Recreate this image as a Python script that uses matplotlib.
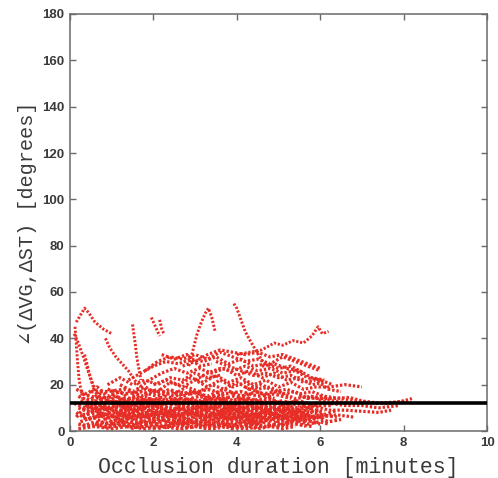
import matplotlib
matplotlib.use("Agg")
import matplotlib.pyplot as plt

# ---- data (minutes vs degrees) ----
threshold = 12.0
x_ticks = [0, 2, 4, 6, 8, 10]
y_ticks = [0, 20, 40, 60, 80, 100, 120, 140, 160, 180]

upper_tracks = [
    [(0.15, 47), (0.25, 50), (0.35, 53), (0.45, 51), (0.6, 47), (0.8, 44), (1.0, 42)],
    [(0.1, 42), (0.2, 38), (0.3, 33), (0.45, 25), (0.6, 18), (0.8, 12)],
    [(0.12, 45), (0.15, 38), (0.18, 30), (0.22, 22), (0.3, 14)],
    [(0.35, 33), (0.42, 28), (0.5, 22), (0.6, 17), (0.75, 13), (0.9, 9)],
    [(0.85, 40), (0.95, 36), (1.1, 32), (1.25, 29), (1.4, 26), (1.55, 22), (1.7, 19)],
    [(1.5, 46), (1.53, 42), (1.57, 37), (1.6, 32), (1.65, 27), (1.7, 22)],
    [(1.95, 49), (2.0, 47), (2.05, 45), (2.1, 43), (2.15, 41)],
    [(2.15, 48), (2.2, 44), (2.25, 42)],
    [(2.85, 28), (2.95, 35), (3.05, 42), (3.15, 47), (3.25, 51), (3.32, 53), (3.4, 49), (3.48, 43)],
    [(3.93, 55), (4.0, 53), (4.1, 48), (4.2, 43), (4.32, 39), (4.45, 35), (4.55, 32), (4.7, 28)],
    [(4.0, 33), (4.3, 34), (4.6, 35), (4.9, 38), (5.1, 37), (5.35, 39), (5.6, 38),
     (5.8, 41), (5.95, 45), (6.05, 42), (6.2, 43)],
]

mid_tracks = [
    [(1.4, 22), (1.7, 25), (2.0, 28), (2.3, 30), (2.6, 29), (2.9, 31), (3.2, 30), (3.5, 32),
     (3.8, 29), (4.1, 31), (4.4, 28), (4.7, 29), (5.0, 27), (5.3, 28), (5.6, 25)],
    [(1.6, 18), (1.9, 22), (2.2, 25), (2.5, 27), (2.8, 25), (3.1, 27), (3.4, 25), (3.7, 27),
     (4.0, 24), (4.3, 26), (4.6, 23), (4.9, 25), (5.2, 22), (5.5, 23), (5.8, 20), (6.1, 21)],
    [(1.8, 26), (2.1, 30), (2.4, 32), (2.7, 31), (3.0, 33), (3.3, 31), (3.6, 34), (3.9, 32),
     (4.2, 30), (4.5, 31), (4.8, 29), (5.1, 32), (5.4, 30), (5.7, 28), (6.0, 26)],
    [(2.0, 20), (2.3, 22), (2.6, 20), (2.9, 23), (3.2, 21), (3.5, 24), (3.8, 21), (4.1, 23),
     (4.4, 20), (4.7, 22), (5.0, 19), (5.3, 21), (5.6, 18), (5.9, 19), (6.2, 19), (6.6, 20), (7.0, 19)],
    [(2.5, 16), (2.8, 19), (3.1, 17), (3.4, 20), (3.7, 18), (4.0, 21), (4.3, 18), (4.6, 20),
     (4.9, 17), (5.2, 18), (5.5, 16), (5.8, 17), (6.1, 15), (6.5, 14), (6.9, 13), (7.3, 12),
     (7.7, 12), (8.0, 13), (8.2, 14)],
    [(2.7, 28), (3.0, 30), (3.3, 33), (3.6, 35), (3.9, 34), (4.2, 33), (4.5, 34), (4.8, 32),
     (5.1, 33), (5.4, 31), (5.7, 29), (6.0, 27)],
    [(3.0, 22), (3.3, 25), (3.6, 27), (3.9, 26), (4.2, 28), (4.5, 26), (4.8, 27), (5.1, 25),
     (5.4, 26), (5.7, 23), (6.0, 22), (6.3, 20)],
    [(4.6, 28), (4.9, 29), (5.2, 27), (5.5, 26), (5.8, 23), (6.1, 22)],
    [(1.5, 15), (1.8, 18), (2.1, 17), (2.4, 21), (2.7, 19), (3.0, 22), (3.3, 19), (3.6, 22),
     (3.9, 19), (4.2, 21), (4.5, 18), (4.8, 19), (5.1, 16), (5.4, 17), (5.7, 14), (6.0, 15),
     (6.3, 13), (6.7, 12)],
    [(0.9, 20), (1.2, 23), (1.5, 20), (1.8, 22), (2.1, 20), (2.4, 23), (2.7, 22), (3.0, 25),
     (3.3, 23), (3.6, 24)],
    [(3.5, 30), (3.8, 28), (4.1, 26), (4.4, 24), (4.7, 25), (5.0, 23), (5.3, 24), (5.6, 21),
     (5.9, 22), (6.2, 18), (6.5, 17)],
    [(2.2, 33), (2.5, 31), (2.8, 33), (3.1, 28), (3.4, 29)],
    [(4.2, 19), (4.6, 16), (5.0, 17), (5.4, 14), (5.8, 15), (6.2, 12), (6.6, 11), (7.0, 11),
     (7.4, 10), (7.9, 11)],
]

tail_tracks = [
    [(5.0, 12), (5.4, 10), (5.8, 11), (6.2, 9), (6.6, 9), (7.0, 8.5), (7.4, 8), (7.7, 9)],
    [(4.8, 8), (5.2, 6), (5.6, 7), (6.0, 6), (6.4, 7), (6.8, 6)],
    [(5.5, 15), (5.9, 14), (6.3, 14), (6.7, 14.5), (7.0, 13), (7.4, 12), (7.8, 12.5), (8.1, 13)],
]

low_tracks = [
    [(0.15, 8), (0.4, 5), (0.7, 7), (1.0, 4), (1.3, 6), (1.6, 3), (1.9, 5), (2.2, 2), (2.5, 4),
     (2.8, 3), (3.1, 5), (3.4, 2), (3.7, 4), (4.0, 3), (4.3, 5), (4.6, 2)],
    [(0.2, 3), (0.5, 2), (0.8, 4), (1.1, 2), (1.4, 3), (1.7, 1.5), (2.0, 3), (2.3, 1.5), (2.6, 3),
     (2.9, 1.5), (3.2, 3), (3.5, 2), (3.8, 3), (4.1, 1.5), (4.4, 3), (4.7, 2), (5.0, 3)],
    [(0.1, 12), (0.35, 10), (0.6, 13), (0.9, 9), (1.2, 11), (1.5, 8), (1.8, 10), (2.1, 7),
     (2.4, 9), (2.7, 6), (3.0, 8), (3.3, 6), (3.6, 9), (3.9, 7), (4.2, 9), (4.5, 6), (4.8, 8),
     (5.1, 5), (5.4, 7)],
    [(0.2, 15), (0.45, 13), (0.7, 16), (1.0, 12), (1.3, 14), (1.6, 11), (1.9, 13), (2.2, 10),
     (2.5, 12), (2.8, 9), (3.1, 11), (3.4, 10), (3.7, 12), (4.0, 9), (4.3, 11), (4.6, 8),
     (4.9, 10), (5.2, 7), (5.5, 9), (5.8, 6)],
    [(0.3, 6), (0.6, 9), (0.9, 6), (1.2, 8), (1.5, 5), (1.8, 8), (2.1, 5), (2.4, 7), (2.7, 4),
     (3.0, 7), (3.3, 4), (3.6, 6), (3.9, 5), (4.2, 7), (4.5, 4), (4.8, 6), (5.1, 3), (5.4, 5),
     (5.7, 3), (6.0, 4), (6.2, 3)],
    [(0.15, 18), (0.4, 16), (0.65, 19), (0.9, 15), (1.2, 17), (1.5, 13), (1.8, 15), (2.1, 12),
     (2.4, 14), (2.7, 11), (3.0, 13), (3.3, 12), (3.6, 14), (3.9, 11), (4.2, 13), (4.5, 10),
     (4.8, 12), (5.1, 9), (5.4, 11)],
    [(0.5, 10), (0.8, 7), (1.1, 10), (1.4, 7), (1.7, 9), (2.0, 6), (2.3, 8), (2.6, 5), (2.9, 8),
     (3.2, 6), (3.5, 8), (3.8, 5), (4.1, 7), (4.4, 5), (4.7, 7), (5.0, 4), (5.3, 6), (5.6, 4),
     (5.9, 6), (6.2, 4), (6.5, 5)],
    [(0.25, 4), (0.55, 6), (0.85, 3), (1.15, 5), (1.45, 2.5), (1.75, 4), (2.05, 3), (2.35, 5),
     (2.65, 2.5), (2.95, 4), (3.25, 2), (3.55, 4), (3.85, 2), (4.15, 4), (4.45, 3), (4.75, 5),
     (5.05, 2.5), (5.35, 4), (5.65, 2)],
    [(0.4, 14), (0.7, 11), (1.0, 14), (1.3, 10), (1.6, 12), (1.9, 9), (2.2, 11), (2.5, 8),
     (2.8, 10), (3.1, 8), (3.4, 10), (3.7, 7), (4.0, 10), (4.3, 8), (4.6, 10), (4.9, 7),
     (5.2, 9), (5.5, 6), (5.8, 8), (6.1, 7), (6.4, 9)],
    [(0.6, 3), (0.9, 1.5), (1.2, 3), (1.5, 1.2), (1.8, 2.5), (2.1, 1), (2.4, 2.5), (2.7, 1),
     (3.0, 2), (3.3, 1), (3.6, 2.5), (3.9, 1), (4.2, 2.5), (4.5, 1), (4.8, 2), (5.1, 1), (5.4, 2)],
    [(1.0, 16), (1.3, 13), (1.6, 15), (1.9, 12), (2.2, 14), (2.5, 11), (2.8, 13), (3.1, 10),
     (3.4, 12), (3.7, 9), (4.0, 11), (4.3, 9), (4.6, 11), (4.9, 9), (5.2, 11), (5.5, 8), (5.8, 10)],
    [(0.2, 10), (0.5, 8), (0.8, 11), (1.1, 8), (1.4, 10), (1.7, 7), (2.0, 9), (2.3, 7), (2.6, 10),
     (2.9, 7), (3.2, 9), (3.5, 7), (3.8, 10), (4.1, 8), (4.4, 6), (4.7, 9), (5.0, 6)],
    [(1.2, 20), (1.5, 17), (1.8, 19), (2.1, 16), (2.4, 18), (2.7, 15), (3.0, 17), (3.3, 14),
     (3.6, 16), (3.9, 13), (4.2, 15), (4.5, 12), (4.8, 14), (5.1, 11), (5.4, 13), (5.7, 10), (6.0, 12)],
    [(0.3, 2), (0.6, 4), (0.9, 2), (1.2, 4), (1.5, 6), (1.8, 4), (2.1, 6), (2.4, 3), (2.7, 5),
     (3.0, 3), (3.3, 5), (3.6, 3), (3.9, 6), (4.2, 4), (4.5, 6), (4.8, 4)],
    [(0.3, 7), (0.7, 8), (1.1, 6), (1.5, 9), (1.9, 7), (2.3, 9), (2.7, 7), (3.1, 10), (3.5, 8),
     (3.9, 9), (4.3, 7), (4.7, 8), (5.1, 6), (5.5, 7), (5.9, 5)],
    [(0.2, 1), (0.6, 2), (1.0, 1), (1.4, 2), (1.8, 1), (2.2, 2), (2.6, 1), (3.0, 2), (3.4, 1),
     (3.8, 2), (4.2, 1), (4.6, 2)],
    [(0.5, 12), (0.9, 13), (1.3, 11), (1.7, 13), (2.1, 11), (2.5, 13), (2.9, 12), (3.3, 13),
     (3.7, 11), (4.1, 12), (4.5, 10), (4.9, 11), (5.3, 9), (5.7, 10), (6.1, 8)],
    [(0.8, 5), (1.2, 7), (1.6, 5), (2.0, 7), (2.4, 6), (2.8, 8), (3.2, 6), (3.6, 7), (4.0, 5),
     (4.4, 7), (4.8, 5), (5.2, 7), (5.6, 5), (6.0, 7), (6.4, 6)],
    [(0.4, 9), (0.8, 10), (1.2, 9), (1.6, 10), (2.0, 8), (2.4, 10), (2.8, 9), (3.2, 11),
     (3.6, 9), (4.0, 11), (4.4, 9), (4.8, 10), (5.2, 8)],
    [(1.0, 3), (1.4, 4), (1.8, 3), (2.2, 5), (2.6, 3), (3.0, 4), (3.4, 3), (3.8, 5), (4.2, 3),
     (4.6, 4), (5.0, 2), (5.4, 3), (5.8, 2)],
    [(0.3, 16), (0.7, 14), (1.1, 12), (1.5, 14), (1.9, 13), (2.3, 15), (2.7, 13), (3.1, 15),
     (3.5, 13), (3.9, 15), (4.3, 13), (4.7, 14), (5.1, 12), (5.5, 13), (5.9, 11), (6.3, 11)],
    [(1.6, 10), (2.0, 11), (2.4, 9), (2.8, 11), (3.2, 10), (3.6, 11), (4.0, 9), (4.4, 10),
     (4.8, 8), (5.2, 9), (5.6, 8), (6.0, 9)],
    [(0.6, 6), (1.0, 8), (1.4, 7), (1.8, 6), (2.2, 8), (2.6, 7), (3.0, 9), (3.4, 7), (3.8, 8),
     (4.2, 6), (4.6, 8), (5.0, 7)],
    [(2.0, 4), (2.4, 5), (2.8, 4), (3.2, 6), (3.6, 5), (4.0, 6), (4.4, 4), (4.8, 6), (5.2, 4),
     (5.6, 5), (6.0, 3)],
    [(0.9, 18), (1.3, 16), (1.7, 17), (2.1, 15), (2.5, 17), (2.9, 16), (3.3, 18), (3.7, 16),
     (4.1, 17), (4.5, 15), (4.9, 16), (5.3, 14)],
    [(0.15, 6), (0.3, 9), (0.5, 11), (0.8, 9), (1.1, 12), (1.4, 10), (1.7, 12), (2.0, 10)],
    [(0.35, 11), (0.75, 9), (1.15, 11), (1.55, 9), (1.95, 11), (2.35, 8), (2.75, 11), (3.15, 9),
     (3.55, 11), (3.95, 9), (4.35, 11), (4.75, 9), (5.15, 10), (5.55, 8)],
    [(0.45, 5), (0.85, 7), (1.25, 5), (1.65, 7), (2.05, 5), (2.45, 7), (2.85, 5), (3.25, 8),
     (3.65, 6), (4.05, 8), (4.45, 6), (4.85, 7), (5.25, 5), (5.65, 6)],
    [(0.7, 14), (1.1, 15), (1.5, 12), (1.9, 14), (2.3, 12), (2.7, 14), (3.1, 13), (3.5, 15),
     (3.9, 12), (4.3, 14), (4.7, 12), (5.1, 13), (5.5, 11)],
    [(0.25, 13), (0.65, 11), (1.05, 13), (1.45, 11), (1.85, 14), (2.25, 12), (2.65, 14),
     (3.05, 12), (3.45, 14), (3.85, 12), (4.25, 14), (4.65, 11)],
    [(1.3, 8), (1.7, 6), (2.1, 8), (2.5, 6), (2.9, 8), (3.3, 6), (3.7, 8), (4.1, 6), (4.5, 8),
     (4.9, 6), (5.3, 8), (5.7, 6), (6.1, 6)],
    [(0.5, 17), (0.9, 17), (1.3, 18), (1.7, 15), (2.1, 18), (2.5, 15), (2.9, 17), (3.3, 15),
     (3.7, 18), (4.1, 15), (4.5, 17), (4.9, 14)],
]

# ---- figure ----
red = "#e62e27"
text_col = "#3a3a3a"
spine_col = "#6a6a6a"

fig = plt.figure(figsize=(4.98, 4.78), dpi=100)
ax = fig.add_axes([70 / 498, 47 / 478, 417 / 498, 417 / 478])


def draw(tracks, lw):
    for tr in tracks:
        xs = [p[0] for p in tr]
        ys = [p[1] for p in tr]
        ax.plot(xs, ys, color=red, lw=lw, linestyle=(0, (0.75, 0.6)),
                dash_capstyle="butt", solid_joinstyle="round", zorder=2)


draw(low_tracks, 2.5)
draw(tail_tracks, 2.3)
draw(mid_tracks, 2.3)
draw(upper_tracks, 2.1)

ax.axhline(threshold, color="black", lw=2.6, zorder=3)

ax.set_xlim(0, 10)
ax.set_ylim(0, 180)
ax.set_xticks(x_ticks)
ax.set_yticks(y_ticks)
ax.tick_params(direction="in", length=4, width=1, color=spine_col,
               top=True, right=True, pad=4)
for lab in ax.get_xticklabels() + ax.get_yticklabels():
    lab.set_family(["Liberation Sans", "DejaVu Sans"])
    lab.set_fontweight("bold")
    lab.set_fontsize(9.5)
    lab.set_color(text_col)
for s in ax.spines.values():
    s.set_color(spine_col)
    s.set_linewidth(1.1)

ax.set_xlabel("Occlusion duration [minutes]", family=["Liberation Mono", "DejaVu Sans Mono"],
              fontsize=15.5, color=text_col, labelpad=6)
ax.set_ylabel("\u2220(\u0394VG,\u0394ST) [degrees]", family=["Liberation Mono", "DejaVu Sans Mono"],
              fontsize=14.5, color=text_col, labelpad=4)

fig.savefig("out.png", dpi=100)
